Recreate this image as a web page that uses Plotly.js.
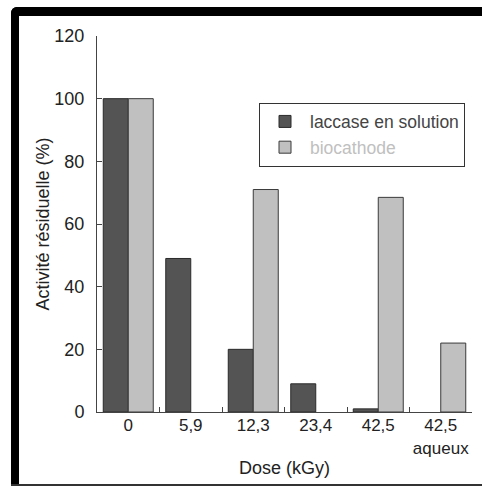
<!DOCTYPE html>
<html>
<head>
<meta charset="utf-8">
<script src="https://cdn.plot.ly/plotly-3.0.1.min.js"></script>
<style>
html,body{margin:0;padding:0;background:#fff;overflow:hidden;}
#wrap{position:relative;width:482px;height:486px;overflow:hidden;}
#chart{position:absolute;left:0;top:0;width:482px;height:486px;}
.fr{position:absolute;pointer-events:none;}
#fl{left:11px;top:7px;width:8px;height:479px;background:#000;border-top-left-radius:6px;}
#ft{left:11px;top:7px;width:471px;height:9px;background:#000;border-top-left-radius:6px;}
#fb{left:11px;top:484px;width:471px;height:2px;background:#333;}
#fr{left:475px;top:16px;width:7px;height:468px;background:#fff;}
</style>
</head>
<body>
<div id="wrap"><div id="chart"></div><div class="fr" id="fr"></div><div class="fr" id="fl"></div><div class="fr" id="ft"></div><div class="fr" id="fb"></div></div>
<script>
const categories = ["0", "5,9", "12,3", "23,4", "42,5", "42,5<br>aqueux"];
const laccaseSolution = [100, 49, 20, 9, 1, null];
const biocathode = [100, null, 71, null, 68.5, 22];
const seriesNames = ["laccase en solution", "biocathode"];
const yTicks = [0, 20, 40, 60, 80, 100, 120];
const xTitle = "Dose (kGy)";
const yTitle = "Activité résiduelle (%)";

const darkColor = "#545454";
const lightColor = "#c0c0c0";
const fontFam = "Liberation Sans, Arial, sans-serif";
const fs = 18;

const traces = [
  {type: "bar", x: categories, y: laccaseSolution,
   name: '<span style="color:#444">' + seriesNames[0] + '</span>',
   marker: {color: darkColor, line: {color: "#2a2a2a", width: 1}}},
  {type: "bar", x: categories, y: biocathode,
   name: '<span style="color:' + lightColor + '">' + seriesNames[1] + '</span>',
   marker: {color: lightColor, line: {color: "#3a3a3a", width: 1}}}
];

const layout = {
  width: 482, height: 486,
  margin: {l: 97, r: 10, t: 36, b: 74},
  paper_bgcolor: "#fff", plot_bgcolor: "#fff",
  font: {family: fontFam, size: fs, color: "#222"},
  barmode: "group", bargap: 0.2, bargroupgap: 0,
  showlegend: true,
  legend: {x: 0.432, y: 0.823, xanchor: "left", yanchor: "top",
           bordercolor: "#333", borderwidth: 1, bgcolor: "#fff",
           font: {family: fontFam, size: 17.5, color: "#444"},
           itemwidth: 40, tracegroupgap: 0},
  xaxis: {type: "category", categoryorder: "array", categoryarray: categories,
          showline: true, linecolor: "#444", linewidth: 1,
          ticks: "inside", ticklen: 5, tickcolor: "#444", tickson: "boundaries",
          tickangle: 0, tickfont: {family: fontFam, size: 17, color: "#222"},
          showgrid: false, zeroline: false, ticklabelstandoff: -2,
          automargin: false, fixedrange: true},
  yaxis: {range: [0, 120], tickvals: yTicks, ticktext: yTicks.map(String),
          showline: true, linecolor: "#444", linewidth: 1,
          ticks: "inside", ticklen: 5, tickcolor: "#444",
          showgrid: false, zeroline: false, ticklabelstandoff: 8,
          title: {text: yTitle, standoff: 0, font: {family: fontFam, size: fs, color: "#222"}},
          automargin: false, fixedrange: true},
  annotations: [
    {text: xTitle, xref: "paper", yref: "paper", x: 0.5, y: -0.149,
     xanchor: "center", yanchor: "middle", showarrow: false,
     font: {family: fontFam, size: fs, color: "#222"}}
  ]
};

Plotly.newPlot("chart", traces, layout, {displayModeBar: false, staticPlot: true});
</script>
</body>
</html>
